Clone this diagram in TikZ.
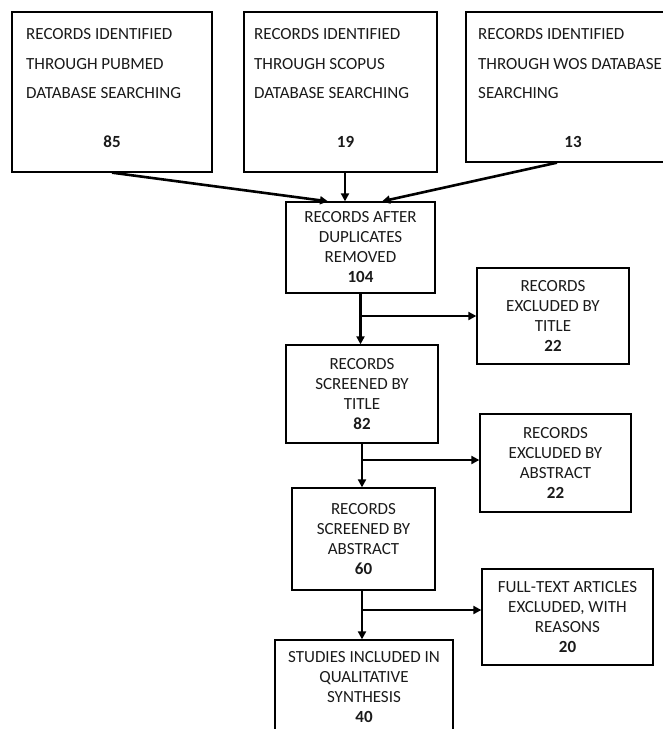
\documentclass[tikz,border=0pt]{standalone}
\usepackage{fontspec}
\setmainfont{Carlito}
\usetikzlibrary{arrows.meta}
\definecolor{txtcol}{HTML}{1A1A1A}
\begin{document}
\begin{tikzpicture}[x=1pt,y=-1pt,
  box/.style={draw=black, line width=1.3pt, inner sep=0pt},
  toptxt/.style={anchor=north west, inner sep=0pt, align=left, text=txtcol,
    font=\fontsize{17}{29.5}\selectfont},
  num/.style={anchor=base, inner sep=0pt, text=txtcol,
    font=\fontsize{17}{20}\selectfont\bfseries},
  midbox/.style={box, align=center, text=txtcol,
    font=\fontsize{17}{20}\selectfont},
  conn/.style={line width=2.6pt, -{Triangle[length=8pt,width=8pt]}}
  ]
\useasboundingbox (0,0) rectangle (663,729);

% top boxes
\node[box, minimum width=200, minimum height=160] (A) at (112,92) {};
\node[toptxt] (At) at (26,28.5) {RECORDS IDENTIFIED\\THROUGH PUBMED\\DATABASE SEARCHING};
\node[num] (An) at (112,147.5) {85};

\node[box, minimum width=193, minimum height=160] (B) at (340.5,92) {};
\node[toptxt] (Bt) at (254,28.5) {RECORDS IDENTIFIED\\THROUGH SCOPUS\\DATABASE SEARCHING};
\node[num] (Bn) at (345.5,147.5) {19};

\node[box, minimum width=214, minimum height=150] (C) at (573,87) {};
\node[toptxt] (Ct) at (478,28.5) {RECORDS IDENTIFIED\\THROUGH WOS DATABASE\\SEARCHING};
\node[num] (Cn) at (573,147.5) {13};

% main column
\node[midbox, minimum width=149, minimum height=91] (D) at (360.5,247.5)
  {RECORDS AFTER\\DUPLICATES\\REMOVED\\\textbf{104}};
\node[midbox, minimum width=152, minimum height=98] (F) at (362,394)
  {RECORDS\\SCREENED BY\\TITLE\\\textbf{82}};
\node[midbox, minimum width=143, minimum height=102] (H) at (363.5,539)
  {RECORDS\\SCREENED BY\\ABSTRACT\\\textbf{60}};
\node[midbox, minimum width=178, minimum height=95] (J) at (364,687.5)
  {STUDIES INCLUDED IN\\QUALITATIVE\\SYNTHESIS\\\textbf{40}};

% side boxes
\node[midbox, minimum width=152, minimum height=96] (E) at (553,316)
  {RECORDS\\EXCLUDED BY\\TITLE\\\textbf{22}};
\node[midbox, minimum width=151, minimum height=98] (G) at (555.5,463)
  {RECORDS\\EXCLUDED BY\\ABSTRACT\\\textbf{22}};
\node[midbox, minimum width=171, minimum height=96] (I) at (567.5,617)
  {FULL-TEXT ARTICLES\\EXCLUDED, WITH\\REASONS\\\textbf{20}};

% connectors
\draw[conn] (A.south) -- ([xshift=-32.5pt]D.north);
\draw[conn] ([xshift=4.5pt]B.south) -- ([xshift=-15.5pt]D.north);
\draw[conn] ([xshift=-16pt]C.south) -- ([xshift=21.5pt]D.north);

\coordinate (e) at (E.west);
\coordinate (g) at ([yshift=3pt]G.west);
\coordinate (i) at ([yshift=7pt]I.west);

\draw[conn] (D.south) -- (D.south |- F.north);
\draw[conn] (D.south |- e) -- (e);
\draw[conn] (F.south) -- (F.south |- H.north);
\draw[conn] (F.south |- g) -- (g);
\draw[conn] ([xshift=-1.5pt]H.south) -- ([xshift=-1.5pt]H.south |- J.north);
\draw[conn] ([xshift=-1.5pt]H.south |- i) -- (i);
\end{tikzpicture}
\end{document}
